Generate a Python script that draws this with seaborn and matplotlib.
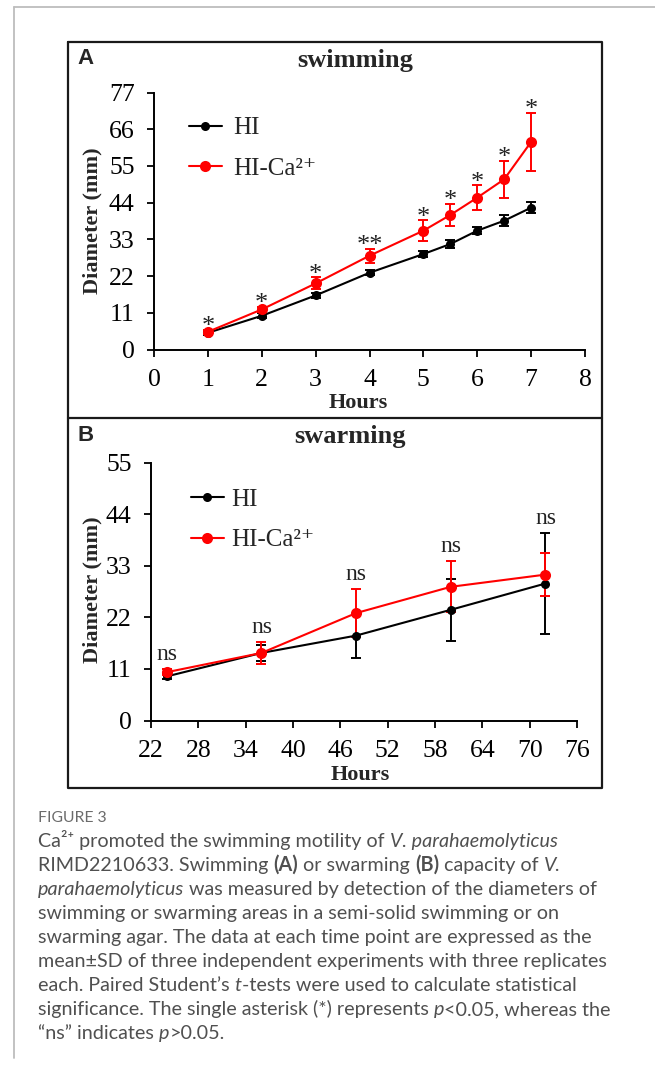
import numpy as np
import pandas as pd
import matplotlib
matplotlib.use("Agg")
import matplotlib.pyplot as plt
import seaborn as sns
from matplotlib.lines import Line2D

# ---------------- data ----------------
hours_swim = [1, 2, 3, 4, 5, 5.5, 6, 6.5, 7]
hi_swim = [5.0, 10.1, 16.2, 23.0, 28.6, 31.6, 35.6, 38.6, 42.5]
hi_swim_sd = [0.6, 0.8, 0.8, 0.7, 1.0, 1.3, 1.1, 1.7, 1.7]
ca_swim = [5.3, 12.0, 19.8, 28.1, 35.6, 40.3, 45.5, 51.0, 62.2]
ca_swim_sd = [0.6, 0.8, 1.8, 2.1, 3.1, 3.4, 3.7, 5.6, 8.8]
sig_swim = ['*', '*', '*', '**', '*', '*', '*', '*', '*']

hours_swarm = [24, 36, 48, 60, 72]
hi_swarm = [9.4, 14.4, 18.1, 23.6, 29.2]
hi_swarm_sd = [0.6, 1.7, 4.7, 6.6, 10.7]
ca_swarm = [10.3, 14.4, 22.9, 28.5, 31.1]
ca_swarm_sd = [0.6, 2.3, 5.1, 5.4, 4.6]
sig_swarm = ['ns', 'ns', 'ns', 'ns', 'ns']

groups = ['HI', 'HI-Ca\u00b2\u207a']
colors = ['black', '#ff0000']

yticks_swim = list(range(0, 78, 11))
xticks_swim = list(range(0, 9))
yticks_swarm = list(range(0, 56, 11))
xticks_swarm = list(range(22, 77, 6))

# ---------------- style ----------------
sns.set_style("ticks")
plt.rcParams['font.family'] = ['Liberation Serif', 'DejaVu Serif']

W, H = 655, 1066
fig = plt.figure(figsize=(W / 100, H / 100), dpi=100)
fig.patch.set_facecolor('white')


def fx(px):
    return px / W


def fy(py):
    return 1 - py / H


def panel(rect, hours, m1, s1, m2, s2, sig, xlim, xticks, ylim, yticks,
          title, title_xy, letter_xy, ylab_xy, hours_xy, leg_anchor,
          leg_pad, leg_space, ms1, ms2, sig_size, sig_off):
    ax = fig.add_axes(rect)
    df = pd.DataFrame({
        'Hours': list(hours) * 2,
        'Diameter': list(m1) + list(m2),
        'SD': list(s1) + list(s2),
        'Group': [groups[0]] * len(hours) + [groups[1]] * len(hours),
    })
    for g, c, ms in zip(groups, colors, [ms1, ms2]):
        sub = df[df['Group'] == g]
        ax.errorbar(sub['Hours'], sub['Diameter'], yerr=sub['SD'], fmt='none',
                    ecolor=c, elinewidth=1.4, capsize=3.5, capthick=1.4, zorder=2)
        sns.lineplot(data=sub, x='Hours', y='Diameter', color=c, marker='o',
                     markersize=ms, markeredgewidth=0, linewidth=1.5,
                     errorbar=None, ax=ax, legend=False, zorder=3)
    # significance labels
    tops = np.maximum(np.array(m1) + np.array(s1), np.array(m2) + np.array(s2))
    for x, t, s in zip(hours, tops, sig):
        ax.annotate(s, (x, t), xytext=(0, sig_off), textcoords='offset points',
                    ha='center', va='bottom', fontsize=sig_size, color='#222222')
    ax.set_xlim(*xlim)
    ax.set_ylim(*ylim)
    ax.set_xticks(xticks)
    ax.set_yticks(yticks)
    ax.tick_params(axis='both', direction='out', length=5, width=1.3,
                   labelsize=18.5, colors='black', pad=9)
    for sp in ['top', 'right']:
        ax.spines[sp].set_visible(False)
    for sp in ['left', 'bottom']:
        ax.spines[sp].set_linewidth(1.4)
        ax.spines[sp].set_color('black')
    ax.set_xlabel('')
    ax.set_ylabel('')
    ax.set_facecolor('none')
    fig.text(fx(title_xy[0]), fy(title_xy[1]), title, ha='center', va='center',
             fontsize=19, fontweight='bold')
    fig.text(fx(letter_xy[0]), fy(letter_xy[1]), letter_xy[2], ha='center',
             va='center', fontsize=16, fontweight='bold',
             family=['Liberation Sans', 'DejaVu Sans'])
    fig.text(fx(ylab_xy[0]), fy(ylab_xy[1]), 'Diameter (mm)', rotation=90,
             ha='center', va='center', fontsize=16, fontweight='bold')
    fig.text(fx(hours_xy[0]), fy(hours_xy[1]), 'Hours', ha='center',
             va='center', fontsize=16, fontweight='bold')
    handles = [Line2D([], [], color=c, marker='o', markersize=ms, lw=1.5,
                      markeredgewidth=0) for c, ms in zip(colors, [ms1, ms2])]
    ax.legend(handles, groups, loc='upper left',
              bbox_to_anchor=(fx(leg_anchor[0]), fy(leg_anchor[1])),
              bbox_transform=fig.transFigure, frameon=False, fontsize=18,
              borderpad=0, borderaxespad=0, handlelength=1.3,
              handletextpad=leg_pad, labelspacing=leg_space)
    return ax


# panel A : x 0..8 -> px 154..585 ; y 0..77 -> px 349.5..92.5
rectA = [fx(154), fy(349.5), (585 - 154) / W, (349.5 - 92.5) / H]
panel(rectA, hours_swim, hi_swim, hi_swim_sd, ca_swim, ca_swim_sd, sig_swim,
      (0, 8), xticks_swim, (0, 77), yticks_swim, 'swimming', (355, 61),
      (86, 59, 'A'), (92, 221), (358, 403), (189, 117), 0.45, 0.72,
      6.5, 8, 19, -6)

# panel B : x 22..76 -> px 151..577 ; y 0..55 -> px 720.5..462.5
rectB = [fx(151), fy(720.5), (577 - 151) / W, (720.5 - 462.5) / H]
panel(rectB, hours_swarm, hi_swarm, hi_swarm_sd, ca_swarm, ca_swarm_sd,
      sig_swarm, (22, 76), xticks_swarm, (0, 55), yticks_swarm, 'swarming',
      (350, 436), (86, 435, 'B'), (92, 590), (360, 775), (191, 488), 0.3,
      0.74, 6.5, 8, 17, 3)

# ---------------- frames ----------------
box_kw = dict(color='#1a1a1a', lw=1.6, transform=fig.transFigure)
fig.add_artist(Line2D([fx(68), fx(602), fx(602), fx(68), fx(68)],
                      [fy(42), fy(42), fy(788), fy(788), fy(42)], **box_kw))
fig.add_artist(Line2D([fx(68), fx(602)], [fy(418), fy(418)], **box_kw))
page_kw = dict(color='#bdbdbd', lw=1.3, transform=fig.transFigure)
fig.add_artist(Line2D([fx(14), fx(655)], [fy(7), fy(7)], **page_kw))
fig.add_artist(Line2D([fx(14), fx(14)], [fy(7), fy(1058)], **page_kw))

# ---------------- caption ----------------
cap_font = ['Lato', 'DejaVu Sans']
cap_color = '#505050'
renderer = fig.canvas.get_renderer()


def run_width(txt, size, style, weight):
    a = fig.text(0, 0, 'x' + txt + 'x', fontsize=size, family=cap_font,
                 style=style, weight=weight)
    b = fig.text(0, 0, 'xx', fontsize=size, family=cap_font, style=style,
                 weight=weight)
    w = a.get_window_extent(renderer).width - b.get_window_extent(renderer).width
    a.remove()
    b.remove()
    return w


# fit caption size so the longest line spans ~569 px
ref_line = 'mean\u00b1SD of three independent experiments with three replicates'
w10 = run_width(ref_line, 10, 'normal', 'normal')
cap_size = 10 * 569 / w10

N, I, B = 'n', 'i', 'b'
cap_lines = [
    [('Ca\u00b2\u207a promoted the swimming motility of ', N), ('V. parahaemolyticus', I)],
    [('RIMD2210633. Swimming ', N), ('(A)', B), (' or swarming ', N), ('(B)', B),
     (' capacity of ', N), ('V.', I)],
    [('parahaemolyticus', I), (' was measured by detection of the diameters of', N)],
    [('swimming or swarming areas in a semi-solid swimming or on', N)],
    [('swarming agar. The data at each time point are expressed as the', N)],
    [(ref_line, N)],
    [('each. Paired Student\u2019s ', N), ('t', I),
     ('-tests were used to calculate statistical', N)],
    [('significance. The single asterisk (*) represents ', N), ('p', I),
     ('<0.05, whereas the', N)],
    [('\u201cns\u201d indicates ', N), ('p', I), ('>0.05.', N)],
]

fig.text(fx(38), fy(822), 'FIGURE 3', fontsize=cap_size * 0.8, family=cap_font,
         color='#6b6b6b', va='baseline', ha='left')
y0 = 847
for i, line in enumerate(cap_lines):
    x = 38
    for txt, st in line:
        style = 'italic' if st == I else 'normal'
        weight = 'bold' if st == B else 'normal'
        fig.text(fx(x), fy(y0 + 24 * i), txt, fontsize=cap_size, family=cap_font,
                 style=style, weight=weight, color=cap_color, va='baseline',
                 ha='left')
        x += run_width(txt, cap_size, style, weight)

fig.savefig('out.png', dpi=100, facecolor='white')
